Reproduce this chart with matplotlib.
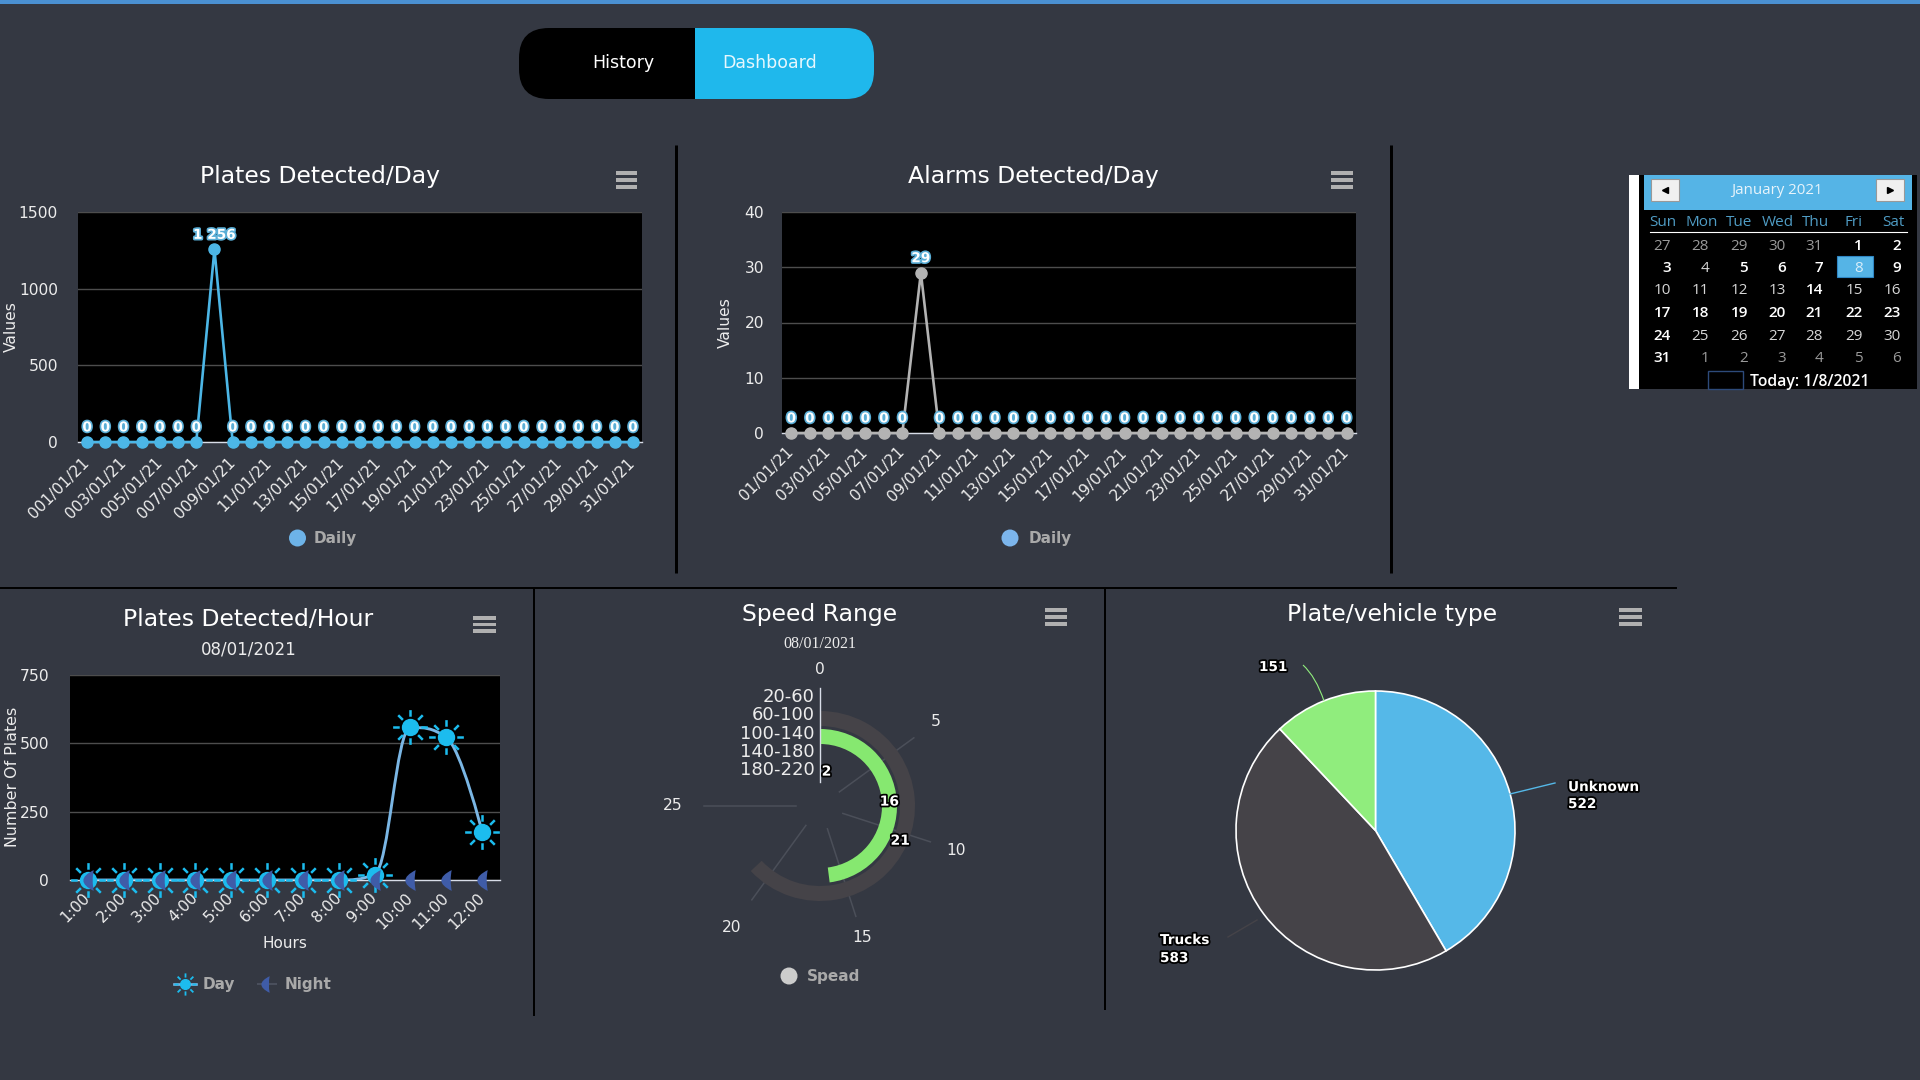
import numpy as np
import matplotlib
matplotlib.use("Agg")
import matplotlib.pyplot as plt
import matplotlib.patheffects as pe
from matplotlib.patches import Rectangle, Ellipse, PathPatch, FancyBboxPatch
from matplotlib.path import Path

# data
plates_day = [0] * 7 + [1256] + [0] * 23
alarms_day = [0] * 7 + [29] + [0] * 23
plates_ticks = ["001/01/21", "003/01/21", "005/01/21", "007/01/21", "009/01/21", "11/01/21", "13/01/21", "15/01/21",
                "17/01/21", "19/01/21", "21/01/21", "23/01/21", "25/01/21", "27/01/21", "29/01/21", "31/01/21"]
alarms_ticks = ["01/01/21", "03/01/21", "05/01/21", "07/01/21", "09/01/21", "11/01/21", "13/01/21", "15/01/21",
                "17/01/21", "19/01/21", "21/01/21", "23/01/21", "25/01/21", "27/01/21", "29/01/21", "31/01/21"]
hours = ["1:00", "2:00", "3:00", "4:00", "5:00", "6:00", "7:00", "8:00", "9:00", "10:00", "11:00", "12:00"]
plates_hour_day = [0, 0, 0, 0, 0, 0, 0, 0, 20, 558, 522, 177]
plates_hour_night = [0] * 12
speed_ranges = ["20-60", "60-100", "100-140", "140-180", "180-220"]
speed_values = [0, 21, 16, 0, 2]
speed_ticks = [0, 5, 10, 15, 20, 25]
pie_labels = ["Unknown", "Trucks", ""]
pie_values = [522, 583, 151]
cal_days = ["Sun", "Mon", "Tue", "Wed", "Thu", "Fri", "Sat"]
cal_rows = [[27, 28, 29, 30, 31, 1, 2],
            [3, 4, 5, 6, 7, 8, 9],
            [10, 11, 12, 13, 14, 15, 16],
            [17, 18, 19, 20, 21, 22, 23],
            [24, 25, 26, 27, 28, 29, 30],
            [31, 1, 2, 3, 4, 5, 6]]
cal_bold = [1, 2, 3, 5, 6, 7, 9, 14, 17, 18, 19, 20, 21, 22, 23, 24]

BG = "#343842"
WHITE = "#ececec"
TITLE = 16.9
plt.rcParams["font.family"] = "DejaVu Sans"

fig = plt.figure(figsize=(19.2, 10.8), dpi=100, facecolor=BG)


def px_axes(left, top, right, bottom, **kw):
    return fig.add_axes([left / 1920, 1 - bottom / 1080, (right - left) / 1920, (bottom - top) / 1080], **kw)


# overlay for everything around the charts, in pixel coordinates
ov = fig.add_axes([0, 0, 1, 1], zorder=10)
ov.set_xlim(0, 1920)
ov.set_ylim(1080, 0)
ov.axis("off")
ov.patch.set_alpha(0)


def text(x, y, s, size=11, color=WHITE, ha="center", va="center", **kw):
    return ov.text(x, y, s, fontsize=size, color=color, ha=ha, va=va, **kw)


def menu_icon(left, right, top, bottom):
    h = (bottom - top) / 4.5
    for i in range(3):
        ov.add_patch(Rectangle((left, top + i * 1.75 * h), right - left, h, color="#b0b0b0", lw=0))


def outlined(size_stroke=2.5, fg="black"):
    return [pe.withStroke(linewidth=size_stroke, foreground=fg)]


def style_chart(ax, ymax, yticks, pad, xpad):
    ax.set_facecolor("black")
    ax.set_ylim(0, ymax)
    ax.set_yticks(yticks)
    ax.tick_params(axis="y", length=0, labelsize=11.2, labelcolor=WHITE, pad=pad)
    ax.tick_params(axis="x", length=0, labelsize=11.2, labelcolor=WHITE, pad=xpad)
    ax.grid(axis="y", color="#4d4d4d", lw=1)
    ax.set_axisbelow(True)
    for side in ["top", "left", "right"]:
        ax.spines[side].set_visible(False)
    ax.spines["bottom"].set_color("#d8dde8")
    ax.spines["bottom"].set_linewidth(1)


def day_chart(ax, values, ticks, ymax, yticks, color, pad, xpad):
    x = np.arange(len(values))
    style_chart(ax, ymax, yticks, pad, xpad)
    ax.set_xlim(-0.5, len(values) - 0.5)
    ax.plot(x, values, color=color, lw=1.9, marker="o", ms=8, mec=color, clip_on=False, zorder=3)
    ax.set_xticks(x[::2])
    ax.set_xticklabels(ticks, rotation=45, ha="right", va="center", rotation_mode="anchor")
    for xi, v in zip(x, values):
        s = f"{v:,}".replace(",", " ")
        ax.annotate(s, (xi, v), xytext=(0, 10.5), textcoords="offset points", ha="center", va="center",
                    fontsize=9.8, fontweight="bold", color="white", annotation_clip=False, zorder=4,
                    path_effects=outlined(2.4, "#5aaed6"))


# top line and nav pill
ov.add_patch(Rectangle((0, 0), 1920, 4, color="#4a90d2", lw=0))
ov.add_patch(FancyBboxPatch((695, 28), 179, 71, boxstyle="round,pad=0,rounding_size=28", color="#1fb8ec", lw=0))
ov.add_patch(FancyBboxPatch((519, 28), 176, 71, boxstyle="round,pad=0,rounding_size=30", color="black", lw=0))
ov.add_patch(Rectangle((655, 28), 40, 71, color="black", lw=0))
ov.add_patch(Rectangle((695, 28), 60, 71, color="#1fb8ec", lw=0))
text(623, 63, "History", 12.5, "white")
text(770, 63, "Dashboard", 12.5, "#e6f7fd")

# dividers
for x, y0, y1, lw in [(676, 145, 573, 3), (1391, 145, 573, 3), (534, 588, 1016, 2), (1105, 588, 1010, 2)]:
    ov.plot([x, x], [y0, y1], color="black", lw=lw / 1.39, solid_capstyle="butt")
ov.plot([0, 1676], [588, 588], color="black", lw=1.4)

# plates per day
ax1 = px_axes(78, 212, 642, 442)
day_chart(ax1, plates_day, plates_ticks, 1500, [0, 500, 1000, 1500], "#4cb6e6", 14.5, 13)
text(320, 176, "Plates Detected/Day", TITLE, "white")
text(11, 327, "Values", 11.2, rotation=90)
menu_icon(616, 637, 171, 189)
ov.add_patch(Ellipse((297.5, 538), 17, 17, color="#6db3e8", lw=0))
text(314, 539, "Daily", 11, "#a9a9a9", ha="left", fontweight="bold")

# alarms per day
ax2 = px_axes(782, 212, 1356, 433)
day_chart(ax2, alarms_day, alarms_ticks, 40, [0, 10, 20, 30, 40], "#b3b3b3", 13, 12)
text(1033.5, 176, "Alarms Detected/Day", TITLE, "white")
text(725, 323, "Values", 11.2, rotation=90)
menu_icon(1331, 1353, 171, 189)
ov.add_patch(Ellipse((1010, 538), 17, 17, color="#7cb5ec", lw=0))
text(1029, 539, "Daily", 11, "#a9a9a9", ha="left", fontweight="bold")


# plates per hour, spline like the original chart
def spline_path(xs, ys):
    verts = [(xs[0], ys[0])]
    codes = [Path.MOVETO]
    s = 1.5
    n = len(xs)
    right_prev = (xs[0], ys[0])
    for i in range(1, n):
        x, y = xs[i], ys[i]
        lx, ly = xs[i - 1], ys[i - 1]
        if i < n - 1:
            nx, ny = xs[i + 1], ys[i + 1]
            c_lx, c_ly = (s * x + lx) / (s + 1), (s * y + ly) / (s + 1)
            c_rx, c_ry = (s * x + nx) / (s + 1), (s * y + ny) / (s + 1)
            corr = (c_ry - c_ly) * (c_rx - x) / (c_rx - c_lx) + y - c_ry
            c_ly += corr
            c_ry += corr
            if c_ly > ly and c_ly > y:
                c_ly = max(ly, y)
                c_ry = 2 * y - c_ly
            elif c_ly < ly and c_ly < y:
                c_ly = min(ly, y)
                c_ry = 2 * y - c_ly
            if c_ry > ny and c_ry > y:
                c_ry = max(ny, y)
                c_ly = 2 * y - c_ry
            elif c_ry < ny and c_ry < y:
                c_ry = min(ny, y)
                c_ly = 2 * y - c_ry
        else:
            c_lx, c_ly, c_rx, c_ry = x, y, x, y
        verts += [right_prev, (c_lx, c_ly), (x, y)]
        codes += [Path.CURVE4] * 3
        right_prev = (c_rx, c_ry)
    return Path(verts, codes)


angles = np.deg2rad(np.arange(0, 360, 45))
ray_verts, ray_codes = [], []
for a in angles:
    ray_verts += [(0.62 * np.cos(a), 0.62 * np.sin(a)), (np.cos(a), np.sin(a))]
    ray_codes += [Path.MOVETO, Path.LINETO]
sun_rays = Path(ray_verts, ray_codes)
moon = Path([(0.5, 1), (-1.5, 0), (0.5, -1), (0.3, 0), (0.5, 1)],
            [Path.MOVETO, Path.CURVE3, Path.CURVE3, Path.CURVE3, Path.CURVE3])

SUN = "#1cbcee"
MOON = "#3f5ca8"
DAY_LINE = "#7ab6e4"

ax3 = px_axes(70, 675, 500, 880)
style_chart(ax3, 750, [0, 250, 500, 750], 15, 11)
hx = np.arange(len(hours))
ax3.set_xlim(-0.5, len(hours) - 0.5)
ax3.add_patch(PathPatch(spline_path(hx, plates_hour_day), fc="none", ec=DAY_LINE, lw=2.1, zorder=3))
ax3.plot(hx, plates_hour_day, ls="", marker=sun_rays, ms=25, mfc="none", mec=SUN, mew=1.8, clip_on=False, zorder=4)
ax3.plot(hx, plates_hour_day, ls="", marker="o", ms=11.5, mfc=SUN, mec=SUN, clip_on=False, zorder=4)
ax3.plot(hx, plates_hour_night, ls="", marker=moon, ms=22.5, mfc=MOON, mec=MOON, mew=0, clip_on=False, zorder=5)
ax3.set_xticks(hx)
ax3.set_xticklabels(hours, rotation=45, ha="right", va="center", rotation_mode="anchor")
text(248.5, 620, "Plates Detected/Hour", TITLE, "white")
text(248.5, 650, "08/01/2021", 12)
text(13, 777, "Number Of Plates", 11.4, rotation=90)
text(285, 943, "Hours", 11)
menu_icon(473, 496, 616, 633)
ov.plot([174, 196], [984, 984], color=DAY_LINE, lw=1.9)
ov.plot([185], [984], ls="", marker=sun_rays, ms=16, mfc="none", mec=SUN, mew=1.3)
ov.plot([185], [984], ls="", marker="o", ms=7, color=SUN)
text(203, 984, "Day", 11, "#a9a9a9", ha="left", fontweight="bold")
ov.plot([258, 276], [984, 984], color="#4a4f5c", lw=1.5)
ov.plot([265], [984], ls="", marker=moon, ms=18, mfc=MOON, mec=MOON, mew=0)
text(285, 984, "Night", 11, "#a9a9a9", ha="left", fontweight="bold")

# speed gauge, 0-25 over 270 degrees
deg_per_unit = np.deg2rad(270 / 25)
ring_mid = [110, 87.5, 69.5, 55, 35]
ring_h = [15, 15, 15, 15, 15]
ring_col = [None, "#454348", "#86e870", None, None]
ring_lab_y = [697, 715, 734, 752, 770]
tick_lab_r = [136, 143, 143, 138, 150, 147]

ax4 = px_axes(820 - 150, 806 - 150, 820 + 150, 806 + 150, projection="polar")
ax4.set_theta_zero_location("N")
ax4.set_theta_direction(-1)
ax4.set_rlim(0, 150)
ax4.axis("off")
ax4.patch.set_alpha(0)
for t in speed_ticks[1:]:
    ax4.plot([t * deg_per_unit] * 2, [24, 116], color="#4b4f59", lw=1.1, zorder=1)
ax4.plot([0, 0], [24, 118], color="#d8dde8", lw=1, zorder=4)
for v, mid, h, col in zip(speed_values, ring_mid, ring_h, ring_col):
    if col is None or v == 0:
        continue
    w = v * deg_per_unit
    ax4.bar(w / 2, h, width=w, bottom=mid - h / 2, color=col, lw=0, zorder=2)
for v, mid in zip(speed_values, ring_mid):
    if v:
        ax4.text(v * deg_per_unit / 2, mid, str(v), fontsize=10, fontweight="bold", color="white", ha="center",
                 va="center", zorder=5, path_effects=outlined(2.5))
for t, r in zip(speed_ticks, tick_lab_r):
    ax4.text(t * deg_per_unit, r, str(t), fontsize=11.2, color=WHITE, ha="center", va="center")
for lab, y in zip(speed_ranges, ring_lab_y):
    text(815, y, lab, 13, ha="right")
text(820, 614, "Speed Range", TITLE, "white")
text(820, 644, "08/01/2021", 11.5, family="Liberation Serif")
menu_icon(1045, 1067, 608, 626)
ov.add_patch(Ellipse((789, 976), 17, 17, color="#cccccc", lw=0))
text(807, 976, "Spead", 11, "#a9a9a9", ha="left", fontweight="bold")

# pie
ax5 = px_axes(1236, 691, 1515, 970)
wedges, _ = ax5.pie(pie_values, colors=["#55b8e8", "#454348", "#90ed7d"], startangle=90, counterclock=False,
                    radius=1, wedgeprops=dict(edgecolor="white", linewidth=1.2))
ax5.set_xlim(-1, 1)
ax5.set_ylim(-1, 1)
for w in wedges:
    w.set_clip_on(False)
text(1392.5, 614, "Plate/vehicle type", TITLE, "white")
menu_icon(1619, 1642, 608, 626)
ov.plot([1510, 1555], [794, 783], color="#55b8e8", lw=1)
ov.plot([1257, 1228], [920, 937], color="#454348", lw=1)
ov.add_patch(PathPatch(Path([(1324, 701), (1316, 677), (1303, 665)], [Path.MOVETO, Path.CURVE3, Path.CURVE3]),
                       fc="none", ec="#90ed7d", lw=0.8))
lab_kw = dict(fontweight="bold", ha="left", path_effects=outlined(2.6))
text(1568, 787, pie_labels[0], 9.8, "white", **lab_kw)
text(1568, 804, str(pie_values[0]), 9.8, "white", **lab_kw)
text(1160, 940, pie_labels[1], 9.8, "white", **lab_kw)
text(1160, 958, str(pie_values[1]), 9.8, "white", **lab_kw)
text(1259, 667, str(pie_values[2]), 9.8, "white", **lab_kw)

# calendar widget
ov.add_patch(Rectangle((1629, 175), 10, 214, color="white", lw=0))
ov.add_patch(Rectangle((1639, 175), 278, 214, color="black", lw=0))
ov.add_patch(Rectangle((1644, 175), 268, 35, color="#55b4e6", lw=0))
for x0, marker in [(1651, "<"), (1876, ">")]:
    ov.add_patch(Rectangle((x0, 179), 28, 22, fc="#f0f0f0", ec="#999999", lw=0.8))
    ov.plot([x0 + 14], [190], marker=marker, color="black", ms=5)
text(1777, 191, "January 2021", 10.8, "#e8f4fb", family="Open Sans")
name_x = [1663, 1702, 1739, 1778, 1815, 1854, 1893]
for nx, d in zip(name_x, cal_days):
    text(nx, 222, d, 11, "#4f9cc4", family="Open Sans")
ov.plot([1650, 1907], [232, 232], color="white", lw=0.8)
ov.add_patch(Rectangle((1837, 256), 36, 21, fc="#55b4e6", ec="#2f86c4", lw=0.8))
col_right = [1671, 1709, 1748, 1786, 1823, 1863, 1901]
row_y = [246, 268, 290, 313, 336, 358]
for r, (row, y) in enumerate(zip(cal_rows, row_y)):
    for c, (d, x) in enumerate(zip(row, col_right)):
        other = (r == 0 and d > 20) or (r == 5 and d < 20)
        bold = not other and (d in cal_bold or (r == 5 and d == 31))
        color = "#9a9a9a" if other else ("white" if bold else "#d6d6d6")
        if d == 8:
            color = "#d8eefa"
        text(x, y, str(d), 11, color, ha="right", family="Open Sans", fontweight="semibold" if bold else "normal")
ov.add_patch(Rectangle((1708, 371), 35, 18, fc="none", ec="#2d4a7a", lw=1))
text(1750, 382, "Today: 1/8/2021", 11.3, "white", ha="left", family="Open Sans", fontweight="semibold")

fig.savefig("out.png", dpi=100, facecolor=BG)
